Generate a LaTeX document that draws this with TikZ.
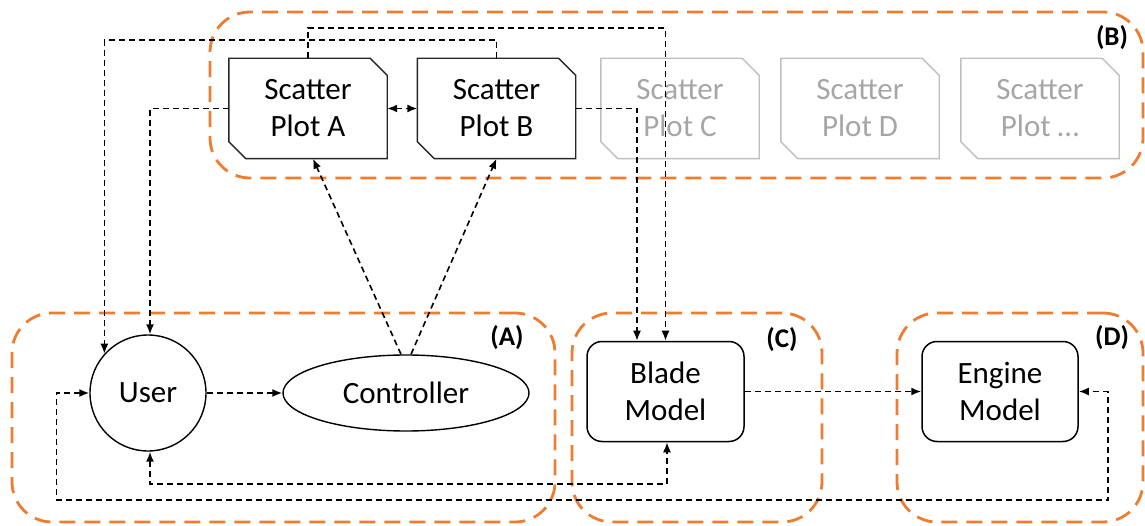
\documentclass[tikz,border=0pt]{standalone}
\usepackage{fontspec}
\setmainfont{Carlito}
\usetikzlibrary{arrows.meta,shapes.geometric}
\definecolor{org}{HTML}{ED7D31}
\definecolor{gtext}{HTML}{A6A6A6}
\definecolor{gline}{HTML}{BFBFBF}
\begin{document}
\begin{tikzpicture}[x=1pt,y=-1pt,
  >={Latex[length=10pt,width=8pt]},
  group/.style={draw=org, line width=2.8pt, dash pattern=on 16pt off 9pt, rounded corners=40pt, inner sep=0pt},
  conn/.style={draw=black, line width=1.6pt, dash pattern=on 6pt off 4pt, ->},
  biconn/.style={conn, <->},
  big/.style={font=\fontsize{31}{37}\selectfont, align=center, inner sep=0pt},
  lab/.style={font=\fontsize{27}{30}\bfseries\selectfont, inner sep=0pt},
  plotnode/.style={big, minimum width=158pt, minimum height=100pt},
  plotline/.style={draw=black!85, line width=1.4pt},
  ghostline/.style={draw=gline, line width=1.4pt},
  rbox/.style={big, draw=black, line width=1.5pt, rounded corners=15pt, minimum width=157pt, minimum height=100pt}
]
\useasboundingbox (0,0) rectangle (1145,526);

% groups
\node[group, minimum width=933pt, minimum height=166pt] (gB) at (676.5,95) {};
\node[group, minimum width=543pt, minimum height=209pt] (gA) at (283.5,417.5) {};
\node[group, minimum width=250pt, minimum height=209pt] (gC) at (697,417.5) {};
\node[group, minimum width=246pt, minimum height=209pt] (gD) at (1020,417.5) {};

\node[lab] (lB) at (1112,38) {(B)};
\node[lab] (lA) at (507,338) {(A)};
\node[lab] (lC) at (782,340) {(C)};
\node[lab] (lD) at (1112,338) {(D)};

% scatter plots
\node[plotnode] (sA) at (308,108.5) {Scatter\\Plot A};
\node[plotnode] (sB) at (496.5,108.5) {Scatter\\Plot B};
\node[plotnode, text=gtext] (sC) at (680,108.5) {Scatter\\Plot C};
\node[plotnode, text=gtext] (sD) at (860,108.5) {Scatter\\Plot D};
\node[plotnode, text=gtext] (sE) at (1040,108.5) {Scatter\\Plot …};
\foreach \n/\st in {sA/plotline, sB/plotline, sC/ghostline, sD/ghostline, sE/ghostline}{
  \draw[\st] (\n.north west) -- ([xshift=-17pt]\n.north east) -- ([yshift=-17pt]\n.north east)
    -- (\n.south east) -- ([xshift=17pt]\n.south west) -- ([yshift=17pt]\n.south west) -- cycle;
}

% main nodes
\node[big, draw=black, line width=1.4pt, circle, minimum size=116pt] (user) at (148,393) {User};
\node[big, draw=black, line width=1.4pt, ellipse, minimum width=246pt, minimum height=76pt] (ctrl) at (406,393) {Controller};
\node[rbox] (blade) at (665.5,391.5) {Blade\\Model};
\node[rbox, minimum width=156pt] (engine) at (1000,391.5) {Engine\\Model};

% connectors
\draw[conn] (user) -- (ctrl);
\draw[conn] ([xshift=-5pt]ctrl.north) -- ([xshift=5pt]sA.south);
\draw[conn] ([xshift=5pt]ctrl.north) -- (sB.south);
\draw[biconn] (sA.east) -- (sB.west);
\draw[conn] (sA.west) -| ([xshift=2pt]user.north);
\draw[conn] (sA.north) -- ++(0,-30) -| (blade.north);
\draw[conn] (sB.north) -- ++(0,-18) -| (user.138);
\draw[conn] (sB.east) -| ([xshift=-28.5pt]blade.north);
\draw[conn] (blade.east) -- (blade.east -| engine.west);
\draw[biconn] ([xshift=2pt]user.south) -- ++(0,32) -| ([xshift=1.5pt]blade.south);
\draw[biconn] (user.west) -- ++(-33,0) |- (1108,500) |- (engine.east);
\end{tikzpicture}
\end{document}
